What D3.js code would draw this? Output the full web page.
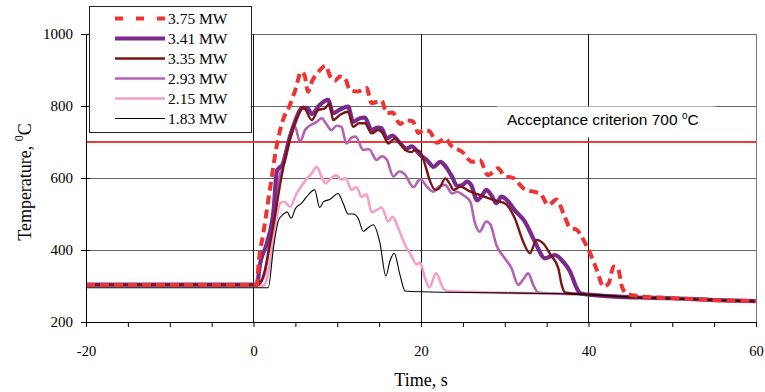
<!DOCTYPE html>
<html>
<head>
<meta charset="utf-8">
<script src="https://cdn.jsdelivr.net/npm/d3@7"></script>
<style>
  html, body { margin: 0; padding: 0; background: #fff; }
  svg { display: block; }
</style>
</head>
<body>
<svg id="chart" width="765" height="392"></svg>
<script>
// ---------- DATA ----------
const seriesNames = ["3.75 MW", "3.41 MW", "3.35 MW", "2.93 MW", "2.15 MW", "1.83 MW"];
const xTicks = [-20, 0, 20, 40, 60];
const yTicks = [200, 400, 600, 800, 1000];
const criterionValue = 700;
const criterionLabel = "Acceptance criterion 700 ";

const s375 = [[-20,303],[0.4,303],[0.6,360],[1.2,450],[2.0,575],[2.7,680],[3.5,760],[4.3,800],[5.0,845],[5.7,895],[6.1,885],[6.5,840],[7.0,870],[7.7,893],[8.6,912],[9.2,880],[9.7,870],[10.3,882],[10.9,878],[11.5,845],[12.4,840],[13.5,850],[14.1,808],[14.8,812],[15.3,815],[15.9,780],[16.6,782],[17.5,750],[18.2,760],[19.0,758],[19.7,725],[20.3,733],[21.0,730],[21.9,698],[22.9,710],[23.6,690],[24.9,673],[26.1,645],[27.0,650],[28.0,608],[29.2,627],[30.0,605],[31.0,600],[32.2,572],[33.4,562],[34.2,558],[35.2,525],[36.2,540],[37.0,502],[37.8,462],[38.6,456],[39.4,428],[40.2,391],[41.0,344],[41.8,298],[42.4,307],[43.0,354],[43.5,350],[44.0,298],[44.6,278],[46,272],[50,266],[55,261],[60,258]];

const s341 = [[-20,304],[0.4,304],[0.8,363],[1.6,419],[2.4,511],[2.8,620],[3.55,641],[4.35,715],[4.95,756],[5.75,794],[6.4,795],[6.95,778],[7.9,803],[8.9,817],[9.5,780],[10.3,790],[11.3,798],[11.9,756],[12.6,765],[13.3,768],[14.1,733],[14.8,740],[15.3,738],[15.9,710],[16.6,718],[17.2,705],[18.3,682],[18.9,688],[19.5,675],[19.9,664],[20.7,650],[21.5,631],[22.3,645],[23.0,630],[23.7,604],[24.3,578],[24.9,580],[25.5,590],[26.0,580],[26.7,538],[27.3,552],[27.8,567],[28.4,552],[29.0,530],[29.6,548],[30.2,540],[31.2,510],[32.4,479],[33.6,423],[34.8,377],[36.0,386],[37.0,367],[37.8,340],[38.6,294],[39.0,280],[40,276],[46,268],[50,266],[55,261],[60,258]];

const s335 = [[-20,303],[0.5,303],[1.2,330],[2.0,420],[2.6,500],[3.2,585],[4.0,678],[4.75,740],[5.55,784],[5.95,798],[6.95,761],[7.75,789],[8.5,793],[9.1,807],[9.5,761],[10.3,775],[11.3,784],[11.9,742],[12.6,752],[13.3,752],[14.1,724],[14.9,733],[15.4,725],[16.1,696],[16.9,710],[17.5,696],[18.1,678],[18.9,672],[19.3,678],[19.9,673],[20.5,636],[21.1,590],[21.7,567],[22.2,572],[22.9,599],[23.4,585],[23.9,567],[24.7,576],[25.9,562],[27.0,553],[28.2,543],[29.4,534],[30.0,530],[31.2,488],[32.2,423],[33.0,391],[33.8,428],[34.6,418],[35.5,386],[36.4,349],[36.8,303],[37.2,282],[40,276],[46,268],[50,265],[55,261],[60,258]];

const s293 = [[-20,303],[0.5,303],[1.3,330],[2.4,511],[3.55,650],[4.55,724],[4.95,742],[5.55,701],[6.2,735],[7.55,756],[8.15,766],[8.7,750],[9.3,733],[9.9,745],[10.5,742],[11.1,696],[11.7,712],[12.2,715],[13.1,678],[13.8,680],[14.7,650],[15.3,660],[15.9,652],[16.7,604],[17.4,618],[18.0,612],[19.1,575],[19.9,597],[20.7,576],[21.5,562],[22.1,576],[22.9,581],[23.7,557],[24.3,562],[25.0,553],[25.9,534],[26.4,479],[27.0,451],[27.8,479],[28.3,470],[29.0,414],[30.0,377],[30.8,350],[31.6,303],[32.2,318],[32.8,335],[33.4,303],[34.0,282],[40,276],[46,268],[50,266],[55,261],[60,258]];

const s215 = [[-20,301],[1.2,301],[1.7,330],[2.4,437],[3.2,530],[3.7,534],[4.35,520],[5.15,557],[6.1,590],[6.95,613],[7.55,631],[8.1,605],[8.55,585],[9.1,595],[9.9,608],[10.5,595],[11.0,600],[11.7,567],[12.3,575],[12.9,548],[13.5,555],[14.1,505],[14.7,511],[15.3,518],[16.1,479],[16.6,492],[17.3,460],[18.1,414],[18.8,386],[19.5,360],[19.9,365],[20.5,320],[21.0,296],[21.8,335],[22.7,292],[23.3,285],[30,281],[40,276],[46,268],[50,266],[55,261],[60,258]];

const s183 = [[-20,295],[1.75,295],[2.4,409],[3.0,483],[3.6,500],[4.0,506],[4.5,488],[5.0,515],[5.75,530],[6.35,548],[7.3,567],[7.9,518],[8.4,535],[9.1,540],[10.1,557],[10.7,530],[11.3,500],[11.9,500],[12.5,488],[13.1,452],[13.7,462],[14.3,470],[15.1,419],[15.8,328],[16.3,370],[16.8,391],[17.5,330],[18.1,286],[20,284],[30,281],[40,276],[46,268],[50,265],[55,261],[60,257]];

const seriesData = [s375, s341, s335, s293, s215, s183];

// ---------- STYLES ----------
const styles = [
  { color: "#ee3333", width: 4,   dash: "9,5",  legendDash: "8,13" },
  { color: "#7b2a8c", width: 4.2, dash: null },
  { color: "#7a1515", width: 2.4, dash: null },
  { color: "#b462b4", width: 2.6, dash: null },
  { color: "#f5a0c8", width: 2.6, dash: null },
  { color: "#000000", width: 1.1, dash: null }
];
const drawOrder = [3, 4, 1, 2, 5, 0];

const serif = "'Liberation Serif','Times New Roman',serif";
const sans = "'Liberation Sans',Arial,sans-serif";

const svg = d3.select("#chart");
const x = d3.scaleLinear().domain([-20, 60]).range([86, 756]);
const y = d3.scaleLinear().domain([200, 1000]).range([322, 34]);

// Gridlines
svg.append("g").selectAll("line").data(yTicks.filter(d => d > 200)).join("line")
  .attr("x1", x(-20)).attr("x2", x(60))
  .attr("y1", d => y(d)).attr("y2", d => y(d))
  .attr("stroke", "#666").attr("stroke-width", 1).attr("shape-rendering", "crispEdges");
svg.append("g").selectAll("line").data(xTicks.filter(d => d > -20)).join("line")
  .attr("x1", d => x(d)).attr("x2", d => x(d))
  .attr("y1", y(1000)).attr("y2", y(200))
  .attr("stroke", d => d === 60 ? "#777" : "#111").attr("stroke-width", 1).attr("shape-rendering", "crispEdges");

// Acceptance line
svg.append("line")
  .attr("x1", x(-20)).attr("x2", x(60))
  .attr("y1", y(criterionValue)).attr("y2", y(criterionValue))
  .attr("stroke", "#ee3b3b").attr("stroke-width", 2);

// Acceptance label with white background
svg.append("rect").attr("x", 497).attr("y", 106.5).attr("width", 218).attr("height", 31).attr("fill", "#fff");
const acc = svg.append("text").attr("x", 507).attr("y", 125)
  .attr("font-family", sans).attr("font-size", 15.5).attr("fill", "#000");
acc.append("tspan").text(criterionLabel);
acc.append("tspan").text("o").attr("font-size", 10).attr("dy", -6);
acc.append("tspan").text("C").attr("dy", 6);

// Curves
const line = d3.line().x(d => x(d[0])).y(d => y(d[1])).curve(d3.curveMonotoneX);
drawOrder.forEach(i => {
  const st = styles[i];
  svg.append("path").datum(seriesData[i])
    .attr("d", line)
    .attr("fill", "none")
    .attr("stroke", st.color)
    .attr("stroke-width", st.width)
    .attr("stroke-linejoin", "round")
    .attr("stroke-dasharray", st.dash);
});

// Axes
const xAxis = d3.axisBottom(x).tickValues(d3.range(-20, 61, 5))
  .tickFormat(d => (d % 20 === 0 ? String(d) : "")).tickSize(5).tickPadding(19);
const gx = svg.append("g").attr("transform", `translate(0,${y(200)})`).call(xAxis);
gx.select(".domain").attr("stroke", "#000").attr("d", `M${x(-20)},0.5H${x(60)}`);
gx.selectAll(".tick line").attr("stroke", "#000");
gx.selectAll(".tick text").attr("font-family", serif).attr("font-size", 14.5).attr("fill", "#000");

const yAxis = d3.axisLeft(y).tickValues(yTicks).tickFormat(d => String(d)).tickSize(5).tickPadding(8);
const gy = svg.append("g").attr("transform", `translate(${x(-20)},0)`).call(yAxis);
gy.select(".domain").attr("stroke", "#000").attr("d", `M0.5,${y(200)}V${y(1000)}`);
gy.selectAll(".tick line").attr("stroke", "#000").attr("x1", 4).attr("x2", -5);
gy.selectAll(".tick text").attr("font-family", serif).attr("font-size", 15).attr("fill", "#000");

// Axis titles
const yt = svg.append("text").attr("transform", "translate(31,182) rotate(-90)")
  .attr("text-anchor", "middle").attr("font-family", serif).attr("font-size", 18).attr("fill", "#000");
yt.append("tspan").text("Temperature, ");
yt.append("tspan").text("0").attr("font-size", 12).attr("dy", -8);
yt.append("tspan").text("C").attr("dy", 8);

svg.append("text").attr("x", 421).attr("y", 386).attr("text-anchor", "middle")
  .attr("font-family", serif).attr("font-size", 18).attr("fill", "#000").text("Time, s");

// Legend
const lg = svg.append("g");
lg.append("rect").attr("x", 89.5).attr("y", 6.5).attr("width", 162).attr("height", 126)
  .attr("fill", "#fff").attr("stroke", "#222").attr("stroke-width", 1);
seriesNames.forEach((name, i) => {
  const st = styles[i];
  const yy = 18.5 + i * 20;
  lg.append("line").attr("x1", 115).attr("x2", 165).attr("y1", yy).attr("y2", yy)
    .attr("stroke", st.color).attr("stroke-width", st.width)
    .attr("stroke-dasharray", st.legendDash || null);
  lg.append("text").attr("x", 168).attr("y", yy + 5.5)
    .attr("font-family", serif).attr("font-size", 15.5).attr("fill", "#000").text(name);
});
</script>
</body>
</html>
